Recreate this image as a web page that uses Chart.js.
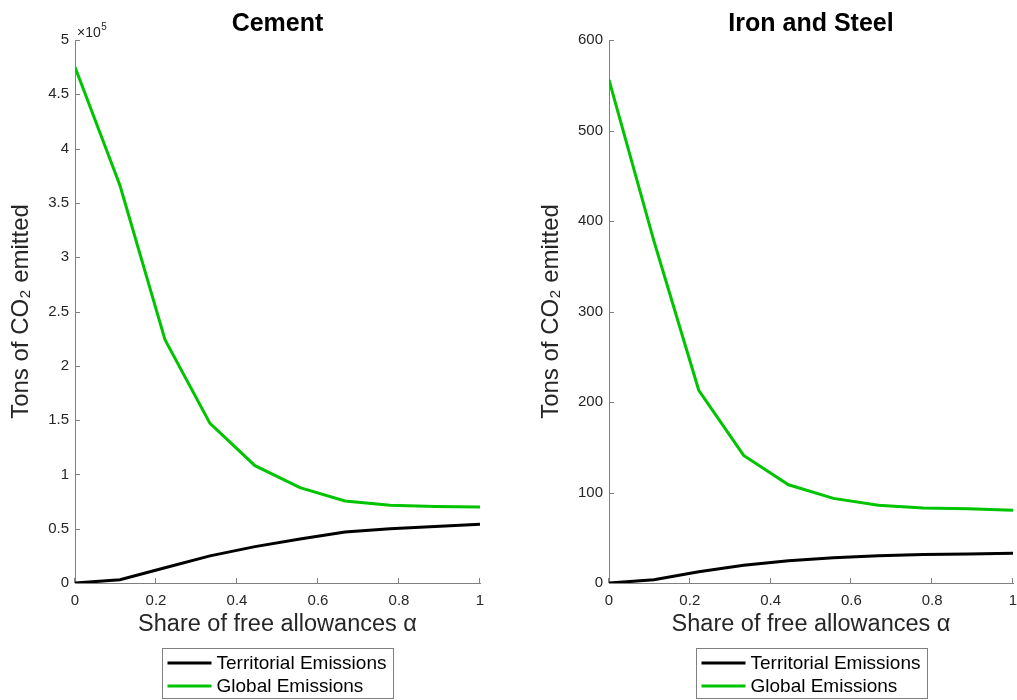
<!DOCTYPE html>
<html>
<head>
<meta charset="utf-8">
<script src="https://cdn.jsdelivr.net/npm/chart.js@4/dist/chart.umd.min.js"></script>
<style>
  html, body { margin: 0; padding: 0; background: #fff; overflow: hidden; }
  #wrap { position: relative; width: 1017px; height: 700px; }
  canvas { position: absolute; top: 0; }
</style>
</head>
<body>
<div id="wrap">
  <canvas id="cementChart" width="512" height="700" style="left:0px"></canvas>
  <canvas id="steelChart" width="490" height="700" style="left:530px"></canvas>
</div>
<script>
// share of free allowances (x values)
const alpha = [0, 0.1111, 0.2222, 0.3333, 0.4444, 0.5556, 0.6667, 0.7778, 0.8889, 1];

// Cement, tons of CO2
const cementTerritorial = [0, 3000, 14000, 25000, 33500, 40500, 47000, 50000, 52000, 54000];
const cementGlobal = [475000, 366000, 224000, 147000, 108000, 87800, 75500, 71500, 70500, 70000];

// Iron and Steel, tons of CO2
const steelTerritorial = [0, 3.5, 12.5, 19.5, 24.5, 28, 30, 31.5, 32, 33];
const steelGlobal = [556, 378, 213, 141, 108.5, 93.5, 86, 83, 82, 80.5];

const xTicks = [0, 0.2, 0.4, 0.6, 0.8, 1];

const FONT = '"Liberation Sans", Arial, sans-serif';
const axisGrey = '#808080';
const labelCol = '#262626';
const green = '#00c400';

// MATLAB style tick marks pointing into the plot
const inwardTicks = {
  id: 'inwardTicks',
  afterDraw(chart) {
    const {ctx, chartArea} = chart;
    const {x, y} = chart.scales;
    ctx.save();
    ctx.strokeStyle = axisGrey;
    ctx.lineWidth = 1;
    ctx.beginPath();
    y.ticks.forEach(t => {
      const py = Math.round(y.getPixelForValue(t.value)) + 0.5;
      ctx.moveTo(chartArea.left, py);
      ctx.lineTo(chartArea.left + 5, py);
    });
    x.ticks.forEach(t => {
      const px = Math.round(x.getPixelForValue(t.value)) - 0.5;
      ctx.moveTo(px, chartArea.bottom);
      ctx.lineTo(px, chartArea.bottom - 5);
    });
    ctx.stroke();
    ctx.restore();
  }
};

// boxed legend under the axis title
const boxLegend = {
  id: 'boxLegend',
  afterDraw(chart) {
    const {ctx, chartArea} = chart;
    const cx = (chartArea.left + chartArea.right) / 2;
    const w = 231, h = 51, top = 648;
    const left = Math.round(cx - w / 2) + 0.5;
    ctx.save();
    ctx.strokeStyle = axisGrey;
    ctx.lineWidth = 1;
    ctx.strokeRect(left, top + 0.5, w, h - 1);
    ctx.font = '19px ' + FONT;
    ctx.textBaseline = 'middle';
    chart.data.datasets.forEach((ds, i) => {
      const yy = top + 15 + i * 23;
      ctx.strokeStyle = ds.borderColor;
      ctx.lineWidth = 3;
      ctx.beginPath();
      ctx.moveTo(left + 5, yy);
      ctx.lineTo(left + 49, yy);
      ctx.stroke();
      ctx.fillStyle = '#000';
      ctx.fillText(ds.label, left + 54, yy + 1);
    });
    ctx.restore();
  }
};

// "x10^5" exponent above the y axis
const expLabel = {
  id: 'expLabel',
  afterDraw(chart, args, opts) {
    if (!opts.text) return;
    const {ctx, chartArea} = chart;
    ctx.save();
    ctx.fillStyle = labelCol;
    ctx.textBaseline = 'alphabetic';
    ctx.font = '14px ' + FONT;
    const x0 = chartArea.left + 2;
    ctx.fillText('\u00d710', x0, chartArea.top - 3);
    const w = ctx.measureText('\u00d710').width;
    ctx.font = '10px ' + FONT;
    ctx.fillText(opts.text, x0 + w + 0.5, chartArea.top - 10);
    ctx.restore();
  }
};

function fmt(v) {
  return String(Math.round(v * 10) / 10);
}

function makeChart(id, title, territorial, global, yMax, yStep, yDiv, yWidth, padRight, expText) {
  return new Chart(document.getElementById(id), {
    type: 'line',
    data: {
      datasets: [
        {
          label: 'Territorial Emissions',
          data: alpha.map((a, i) => ({x: a, y: territorial[i]})),
          borderColor: '#000',
          borderWidth: 3,
          pointRadius: 0,
          tension: 0
        },
        {
          label: 'Global Emissions',
          data: alpha.map((a, i) => ({x: a, y: global[i]})),
          borderColor: green,
          borderWidth: 3,
          pointRadius: 0,
          tension: 0
        }
      ]
    },
    options: {
      responsive: false,
      animation: false,
      devicePixelRatio: 1,
      layout: { padding: { left: 0, right: padRight, top: 0, bottom: 0 } },
      plugins: {
        legend: { display: false },
        tooltip: { enabled: false },
        title: {
          display: true,
          text: title,
          fullSize: false,
          color: '#000',
          font: { family: FONT, size: 25, weight: 'bold' },
          padding: { top: 9, bottom: 1 }
        },
        expLabel: { text: expText }
      },
      scales: {
        x: {
          type: 'linear',
          min: 0,
          max: 1,
          afterBuildTicks: s => { s.ticks = xTicks.map(v => ({value: v})); },
          afterFit: s => { s.height = 117; s.paddingLeft = 0; s.paddingRight = 0; },
          grid: { display: false, drawTicks: false },
          border: { display: true, color: axisGrey, width: 1 },
          ticks: {
            color: labelCol,
            padding: 9,
            maxRotation: 0,
            font: { family: FONT, size: 15 },
            callback: v => fmt(v)
          },
          title: {
            display: true,
            text: 'Share of free allowances \u03b1',
            color: labelCol,
            font: { family: FONT, size: 23.5 },
            padding: { top: 0, bottom: 61 }
          }
        },
        y: {
          min: 0,
          max: yMax,
          afterFit: s => { s.width = yWidth; },
          grid: { display: false, drawTicks: false },
          border: { display: true, color: axisGrey, width: 1 },
          ticks: {
            stepSize: yStep,
            color: labelCol,
            padding: 6,
            font: { family: FONT, size: 15 },
            callback: v => fmt(v / yDiv)
          },
          title: {
            display: true,
            text: 'Tons of CO\u2082 emitted',
            color: labelCol,
            font: { family: FONT, size: 24 },
            padding: { top: 7, bottom: 0 }
          }
        }
      }
    },
    plugins: [inwardTicks, boxLegend, expLabel]
  });
}

makeChart('cementChart', 'Cement', cementTerritorial, cementGlobal, 500000, 50000, 100000, 75, 32, '5');
makeChart('steelChart', 'Iron and Steel', steelTerritorial, steelGlobal, 600, 100, 1, 79, 7, '');
</script>
</body>
</html>
